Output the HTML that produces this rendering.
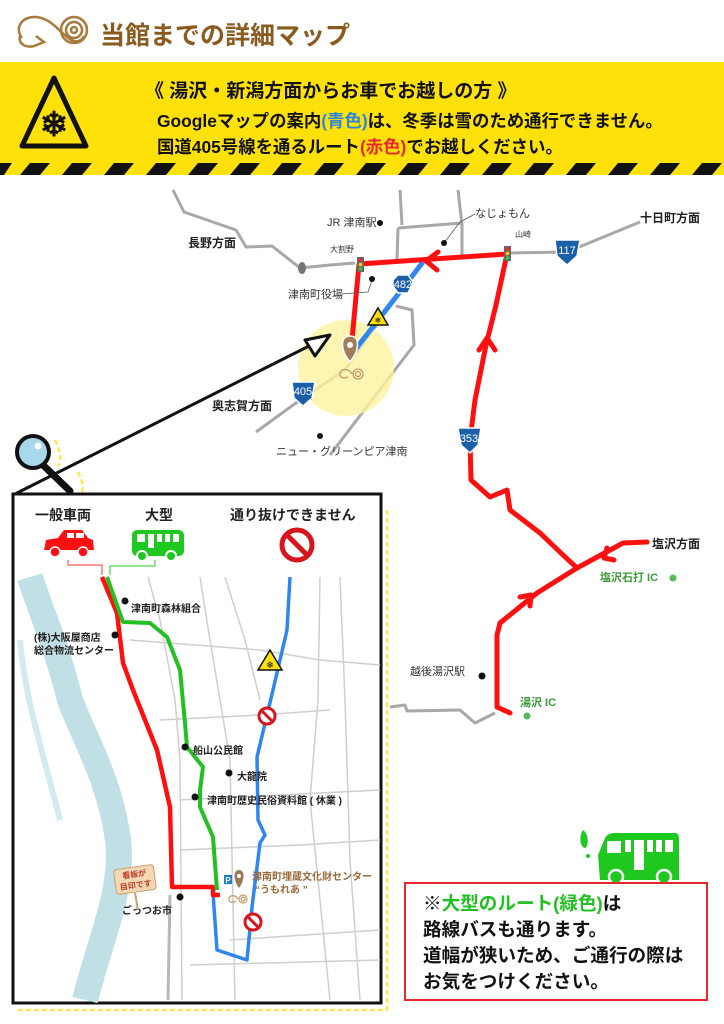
<!DOCTYPE html>
<html><head><meta charset="utf-8"><style>
html,body{margin:0;padding:0;background:#fff;width:724px;height:1024px;overflow:hidden}
svg{display:block}
text{font-family:"Liberation Sans","Noto Sans CJK JP",sans-serif}
.b{font-weight:bold}
</style></head><body>
<svg width="724" height="1024" viewBox="0 0 724 1024" xmlns="http://www.w3.org/2000/svg">
<g fill="none" stroke="#a87a3c" stroke-width="2.5">
<path d="M22 38 C14 28 22 16 36 17 C50 18 58 30 66 36 C72 42 80 44 84 36"/>
<path d="M20 36 C18 44 26 48 34 46 L44 42 L36 36"/>
<circle cx="74" cy="30" r="13"/><circle cx="74" cy="30" r="8"/><circle cx="74" cy="30" r="3"/>
</g>
<text x="100" y="44" class="b" font-size="25" fill="#8a5a1e">当館までの詳細マップ</text>
<rect x="0" y="62" width="724" height="113" fill="#ffe10a"/>
<g fill="#111">
<path d="M0 163 L12 163 L4 175 L-8 175Z"/>
<path d="M30 163 L50 163 L40 175 L20 175Z"/><path d="M72 163 L92 163 L82 175 L62 175Z"/>
<path d="M114 163 L134 163 L124 175 L104 175Z"/><path d="M156 163 L176 163 L166 175 L146 175Z"/>
<path d="M198 163 L218 163 L208 175 L188 175Z"/><path d="M240 163 L260 163 L250 175 L230 175Z"/>
<path d="M282 163 L302 163 L292 175 L272 175Z"/><path d="M324 163 L344 163 L334 175 L314 175Z"/>
<path d="M366 163 L386 163 L376 175 L356 175Z"/><path d="M408 163 L428 163 L418 175 L398 175Z"/>
<path d="M450 163 L470 163 L460 175 L440 175Z"/><path d="M492 163 L512 163 L502 175 L482 175Z"/>
<path d="M534 163 L554 163 L544 175 L524 175Z"/><path d="M576 163 L596 163 L586 175 L566 175Z"/>
<path d="M618 163 L638 163 L628 175 L608 175Z"/><path d="M660 163 L680 163 L670 175 L650 175Z"/>
<path d="M702 163 L722 163 L712 175 L692 175Z"/>
</g>
<path d="M54 78 L86 146 L22 146Z" fill="#ffe10a" stroke="#111" stroke-width="5" stroke-linejoin="round"/>
<text x="54" y="136" font-size="34" text-anchor="middle" fill="#111" class="b">❄</text>
<text x="145" y="97" font-size="19" class="b" fill="#111">《 湯沢・新潟方面からお車でお越しの方 》</text>
<text x="157" y="127" font-size="17.4" class="b" fill="#111">Googleマップの案内<tspan fill="#2f86d8">(青色)</tspan>は、冬季は雪のため通行できません。</text>
<text x="157" y="153" font-size="17.4" class="b" fill="#111">国道405号線を通るルート<tspan fill="#e8282a">(赤色)</tspan>でお越しください。</text>

<g fill="none" stroke="#a8a8a8" stroke-width="3" stroke-linejoin="round">
<path d="M173 190 L184 212 L236 230 L246 247 L272 246 L300 268 L330 265 L355 263"/>
<path d="M400 190 L402 225 M458 190 L462 225 M398 228 L462 223 L462 255 M398 228 L397 260"/>
<path d="M507 253 L567 252 L640 222"/>
<path d="M256 432 L300 400 L345 370 L380 320"/>
<path d="M396 306 L412 310 L414 345 L330 455"/>
<path d="M390 707 L405 705 L407 711 L460 710 L475 723 L495 713"/>
</g>
<ellipse cx="302" cy="268" rx="4" ry="6" fill="#777"/>
<circle cx="346" cy="368" r="48" fill="#fff3a0" opacity="0.8"/>
<path d="M423 262 L355 350" stroke="#2f86f0" stroke-width="5" fill="none"/>
<g fill="none" stroke="#ff1010" stroke-width="5" stroke-linejoin="round" stroke-linecap="round">
<path d="M352 340 L359 264 L507 254"/>
<path d="M507 254 L496 305 L486 345 L475 400 L470 440 L471 480 L490 497 L507 490 L510 510 L540 533 L563 555 L577 568"/>
<path d="M647 542 L623 543 L577 568 L537 593 L500 623 L497 635 L497 707 L510 713"/>
<path d="M438 252 L426 261 L437 270"/>
<path d="M479 350 L487 338 L495 350"/>
<path d="M607 548 L604 558 L614 560"/>
<path d="M520 597 L531 595 L530 606"/>
</g>
<g><rect x="357" y="257" width="7" height="15" fill="#666"/><circle cx="360.5" cy="260" r="1.8" fill="#f22"/><circle cx="360.5" cy="264.5" r="1.8" fill="#fc0"/><circle cx="360.5" cy="269" r="1.8" fill="#3c3"/></g>
<g><rect x="504" y="246" width="7" height="15" fill="#666"/><circle cx="507.5" cy="249" r="1.8" fill="#f22"/><circle cx="507.5" cy="253.5" r="1.8" fill="#fc0"/><circle cx="507.5" cy="258" r="1.8" fill="#3c3"/></g>
<g fill="#1a5fa8" stroke="#fff" stroke-width="1.5">
<path d="M555 240 L580 240 L577 256 L567 265 L557 256Z"/>
<path d="M393 280 L398 275 L408 275 L413 282 L408 293 L398 293 L393 286Z"/>
<path d="M292 382 L315 382 L312 398 L303 406 L294 398Z"/>
<path d="M458 428 L481 428 L478 445 L470 453 L461 445Z"/>
<path d="M118 668 L142 668 L139 684 L130 692 L121 684Z"/>
</g>
<g fill="#fff" font-size="11" text-anchor="middle">
<text x="567" y="254">117</text><text x="403" y="288">482</text><text x="303" y="395">405</text><text x="469" y="442">353</text><text x="130" y="682">405</text>
</g>
<path d="M378 308 L388 325 L368 325Z" fill="#ffe10a" stroke="#111" stroke-width="1.5"/>
<text x="378" y="323" font-size="8" text-anchor="middle">❄</text>
<path d="M350 362 C340 350 340 336 350 336 C360 336 360 350 350 362Z" fill="#a07d5a" stroke="#fff" stroke-width="1.5"/>
<circle cx="350" cy="345" r="3" fill="#fff"/>
<g fill="none" stroke="#c49a6c" stroke-width="1.3"><circle cx="358" cy="374" r="5"/><circle cx="358" cy="374" r="2.5"/><path d="M352 374 C348 368 342 368 340 373 C339 378 344 379 348 377"/></g>
<g font-size="11" fill="#333">
<text x="327" y="226">JR 津南駅</text>
<text x="330" y="252" font-size="8">大割野</text>
<text x="515" y="237" font-size="8">山崎</text>
<text x="475" y="217">なじょもん</text>
<text x="288" y="298">津南町役場</text>
<text x="276" y="455">ニュー・グリーンピア津南</text>
<text x="410" y="675">越後湯沢駅</text>
</g>
<g fill="none" stroke="#555" stroke-width="0.8"><path d="M444 243 L460 222 L475 214"/><path d="M372 280 L368 292 L340 294"/></g>
<g fill="#111"><circle cx="380" cy="223" r="3"/><circle cx="444" cy="243" r="3"/><circle cx="372" cy="279" r="3"/><circle cx="320" cy="436" r="3"/><circle cx="482" cy="676" r="3.5"/></g>
<g font-size="12" class="b" fill="#222">
<text x="188" y="247">長野方面</text><text x="640" y="222">十日町方面</text><text x="212" y="410">奥志賀方面</text><text x="652" y="548">塩沢方面</text>
</g>
<g font-size="11" class="b" fill="#3a9a3a"><text x="600" y="581">塩沢石打 IC</text><text x="520" y="706">湯沢 IC</text></g>
<g fill="#5cb85c"><circle cx="673" cy="578" r="3.5"/><circle cx="527" cy="716" r="3.5"/></g>
<path d="M15 494 L325 338" stroke="#111" stroke-width="3"/>
<path d="M305 340 L330 335 L315 356Z" fill="#fff" stroke="#111" stroke-width="3" stroke-linejoin="round"/>
<path d="M55 440 C60 450 62 460 58 466 M78 472 C82 480 84 487 82 492 M387 510 L387 1010 L15 1010" fill="none" stroke="#ffe64a" stroke-width="2.5" stroke-dasharray="5 3"/>
<path d="M44 466 L70 491" stroke="#111" stroke-width="7" stroke-linecap="round"/>
<circle cx="33" cy="452" r="16" fill="#a8d8ea" stroke="#111" stroke-width="4"/>
<circle cx="38" cy="446" r="3.5" fill="#fff"/>
<rect x="13" y="494" width="368" height="509" fill="#fff" stroke="#111" stroke-width="3"/>
<g font-size="14" class="b" fill="#222"><text x="35" y="520">一般車両</text><text x="145" y="520">大型</text><text x="230" y="520">通り抜けできません</text></g>
<path d="M44 550 L46 540 L58 538 L64 530 L82 530 L88 538 L93 540 L94 550Z" fill="#ff1010"/>
<rect x="67" y="533" width="7" height="5" fill="#fff"/><rect x="76" y="533" width="8" height="5" fill="#fff"/>
<circle cx="55" cy="552" r="5" fill="#ff1010" stroke="#fff" stroke-width="1.5"/><circle cx="83" cy="552" r="5" fill="#ff1010" stroke="#fff" stroke-width="1.5"/>
<rect x="132" y="530" width="52" height="26" rx="5" fill="#1ec81e"/>
<g fill="#fff"><rect x="137" y="534" width="8" height="8"/><rect x="148" y="534" width="6" height="14"/><rect x="157" y="534" width="5" height="8"/><rect x="165" y="534" width="5" height="8"/><rect x="173" y="534" width="6" height="8"/></g>
<circle cx="142" cy="556" r="5" fill="#1ec81e" stroke="#fff" stroke-width="2"/><circle cx="171" cy="556" r="5" fill="#1ec81e" stroke="#fff" stroke-width="2"/>
<circle cx="297" cy="545" r="15" fill="#fff" stroke="#d8141c" stroke-width="5"/>
<path d="M287 535 L307 555" stroke="#d8141c" stroke-width="5"/>
<path d="M68 560 L68 565 L102 565 L102 575" fill="none" stroke="#f33" stroke-width="1"/>
<path d="M110 575 L110 566 L155 566 L155 560" fill="none" stroke="#2c2" stroke-width="1"/>
<path d="M30 577 C40 610 55 640 70 700 C85 740 110 780 118 840 C124 890 100 940 85 1000" fill="none" stroke="#c0e0e6" stroke-width="26"/>
<path d="M20 640 C25 700 45 760 60 820" fill="none" stroke="#d3eaee" stroke-width="6"/>
<g fill="none" stroke="#cfcfcf" stroke-width="1.5">
<path d="M148 577 L160 620 L175 700 L180 760 L182 1000"/>
<path d="M200 577 L210 640 L220 700 L230 760 L235 1000"/>
<path d="M225 577 L245 640 L260 700"/>
<path d="M320 577 L318 700 L310 800 L320 900 L330 1000"/>
<path d="M130 640 L260 650 L320 660 L380 665"/>
<path d="M160 720 L260 715 L330 710"/>
<path d="M180 800 L380 790"/><path d="M180 850 L300 845 L380 840"/>
<path d="M230 940 L380 930"/><path d="M190 965 L380 960"/>
<path d="M340 577 L345 700 L350 860 L360 1000"/>
</g>
<path d="M170 895 L168 1000" stroke="#b8b8b8" stroke-width="3"/>
<path d="M290 577 L287 630 L273 690 L257 757 L258 820 L265 835 L260 843 L252 907 L247 960 L217 950 L213 893" fill="none" stroke="#2f86f0" stroke-width="3.5" stroke-linejoin="round"/>
<path d="M102 577 L117 613 L123 663 L133 690 L157 750 L170 807 L172 887 L213 887 L213 895 L220 895" fill="none" stroke="#ff1010" stroke-width="4.5" stroke-linejoin="round"/>
<path d="M107 577 L123 622 L150 623 L167 637 L180 670 L185 723 L187 747 L203 767 L200 790 L200 807 L213 837 L217 890" fill="none" stroke="#22c022" stroke-width="4" stroke-linejoin="round"/>
<path d="M270 650 L282 670 L258 670Z" fill="#ffe10a" stroke="#111" stroke-width="1.5"/>
<text x="270" y="668" font-size="9" text-anchor="middle">❄</text>
<g fill="#fff" stroke="#d8141c" stroke-width="3"><circle cx="267" cy="716" r="8"/><circle cx="253" cy="922" r="8"/></g>
<path d="M262 711 L272 721 M248 917 L258 927" stroke="#d8141c" stroke-width="3"/>
<g font-size="10" class="b" fill="#222">
<text x="131" y="612">津南町森林組合</text>
<text x="34" y="641">(株)大阪屋商店</text><text x="34" y="654">総合物流センター</text>
<text x="193" y="754">船山公民館</text><text x="237" y="780">大龍院</text>
<text x="207" y="804">津南町歴史民俗資料館 ( 休業 )</text>
<text x="122" y="914">ごっつお市</text>
</g>
<g fill="#111"><circle cx="125" cy="601" r="3.5"/><circle cx="115" cy="635" r="3.5"/><circle cx="185" cy="747" r="3.5"/><circle cx="229" cy="773" r="3.5"/><circle cx="195" cy="797" r="3.5"/><circle cx="180" cy="897" r="3.5"/></g>
<g font-size="10" fill="#9a6a3a" class="b"><text x="252" y="880">津南町埋蔵文化財センター</text><text x="255" y="893">“うもれあ ”</text></g>
<path d="M239 888 C233 880 233 870 239 870 C245 870 245 880 239 888Z" fill="#9a7a5a"/><circle cx="239" cy="876" r="2" fill="#fff"/>
<rect x="224" y="875" width="8" height="9" fill="#1a7fd0"/><text x="228" y="883" font-size="8" fill="#fff" text-anchor="middle" class="b">P</text>
<g fill="none" stroke="#c49a6c" stroke-width="1.2"><circle cx="243" cy="899" r="4"/><circle cx="243" cy="899" r="2"/><path d="M238 899 C235 894 229 895 229 899 C229 903 233 903 236 901"/></g>
<g transform="rotate(-8 135 880)"><rect x="115" y="867" width="40" height="25" rx="3" fill="#f4d8b4" stroke="#c9a070"/><text x="135" y="877" font-size="8" fill="#c0392b" text-anchor="middle" class="b">看板が</text><text x="135" y="888" font-size="8" fill="#c0392b" text-anchor="middle" class="b">目印です</text></g>
<path d="M135 893 L138 910" stroke="#c9a070" stroke-width="2"/>
<path d="M583 830 C578 838 581 848 585 848 C589 846 589 834 583 830Z" fill="#1ec81e"/><circle cx="588" cy="856" r="2" fill="#1ec81e"/>
<path d="M600 880 L598 855 L605 838 C607 834 612 833 614 833 L675 833 C678 833 679 836 679 840 L679 880Z" fill="#1ec81e"/>
<g fill="#fff"><rect x="607" y="841" width="14" height="12"/><rect x="625" y="840" width="6" height="12"/><rect x="634" y="840" width="10" height="30"/><rect x="647" y="840" width="6" height="12"/><rect x="656" y="840" width="6" height="12"/><rect x="665" y="840" width="8" height="12"/></g>
<circle cx="616" cy="877" r="7" fill="#1ec81e" stroke="#fff" stroke-width="2.5"/><circle cx="664" cy="877" r="7" fill="#1ec81e" stroke="#fff" stroke-width="2.5"/>
<rect x="405" y="883" width="302" height="117" fill="#fff" stroke="#e8282a" stroke-width="2"/>
<g font-size="18.6" class="b" fill="#111">
<text x="423" y="910">※<tspan fill="#22c022">大型のルート(緑色)</tspan>は</text>
<text x="423" y="936">路線バスも通ります。</text>
<text x="423" y="962">道幅が狭いため、ご通行の際は</text>
<text x="423" y="988">お気をつけください。</text>
</g>
</svg>
</body></html>
